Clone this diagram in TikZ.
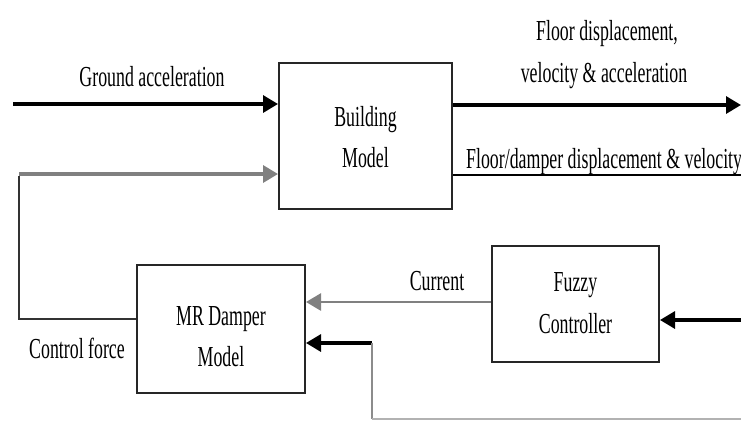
\documentclass[tikz,border=0pt]{standalone}
\usepackage{fontspec}
\setmainfont[FakeStretch=0.615]{Liberation Serif}
\usetikzlibrary{arrows.meta}
\begin{document}
\begin{tikzpicture}[x=1pt,y=-1pt,
  blockbox/.style={draw=black!85,line width=2pt,fill=white,inner sep=0pt},
  lbl/.style={font=\fontsize{29}{41}\selectfont,inner sep=0pt,anchor=base},
  tip/.style={-{Triangle[length=15pt,width=17pt]}},
  mainline/.style={draw=black,line width=3.2pt},
  greyline/.style={draw=black!50,line width=3.4pt},
  thinline/.style={draw=black!80,line width=1.8pt}]
\useasboundingbox (0,0) rectangle (741,421);
% blocks
\node[blockbox,minimum width=173pt,minimum height=146pt] (bld) at (365.5,136) {};
\node[lbl] (bldt1) at (365.5,126) {Building};
\node[lbl] (bldt2) at (365.5,167) {Model};
\node[blockbox,minimum width=168pt,minimum height=128pt] (mr) at (221,329) {};
\node[lbl] (mrt1) at (221,325) {MR Damper};
\node[lbl] (mrt2) at (221,366) {Model};
\node[blockbox,minimum width=167pt,minimum height=116pt] (fz) at (575.5,304) {};
\node[lbl] (fzt1) at (575.5,291) {Fuzzy};
\node[lbl] (fzt2) at (575.5,333) {Controller};
% coordinates
\coordinate (ga) at (13,104);
\coordinate (k1) at (19,174);
\coordinate (k2) at (19,319);
\coordinate (o1) at (741,105);
\coordinate (o2) at (741,175);
\coordinate (cu) at (0,302);
\coordinate (fin) at (741,320);
\coordinate (b1) at (372,343);
\coordinate (b2) at (372,419);
\coordinate (b3) at (741,419);
% connectors
\draw[mainline,tip] (ga) -- (ga -| bld.west);
\draw[thinline] (k2 -| mr.west) -- (k2) -- ([yshift=-1.5pt]k1);
\draw[greyline,tip] (k1) -- (k1 -| bld.west);
\draw[mainline,tip] (o1 -| bld.east) -- (o1);
\draw[draw=black,line width=2.4pt] (o2 -| bld.east) -- (o2);
\draw[greyline,line width=2.8pt,tip] (cu -| fz.west) -- (cu -| mr.east);
\draw[mainline,tip] (fin) -- (fin -| fz.east);
\draw[mainline,tip] (b1) -- (b1 -| mr.east);
\draw[draw=black!45,line width=1.8pt] (b1) -- (b2);
\draw[draw=black!30,line width=1.8pt] (b2) -- (b3);
% labels
\node[lbl] (l1) at (152,86) {Ground acceleration};
\node[lbl] (l2) at (607,40) {Floor displacement,};
\node[lbl] (l3) at (604,82) {velocity \& acceleration};
\node[lbl,anchor=base west] (l4) at (466,168) {Floor/damper displacement \& velocity};
\node[lbl] (l5) at (437,290) {Current};
\node[lbl] (l6) at (77,358) {Control force};
\end{tikzpicture}
\end{document}
